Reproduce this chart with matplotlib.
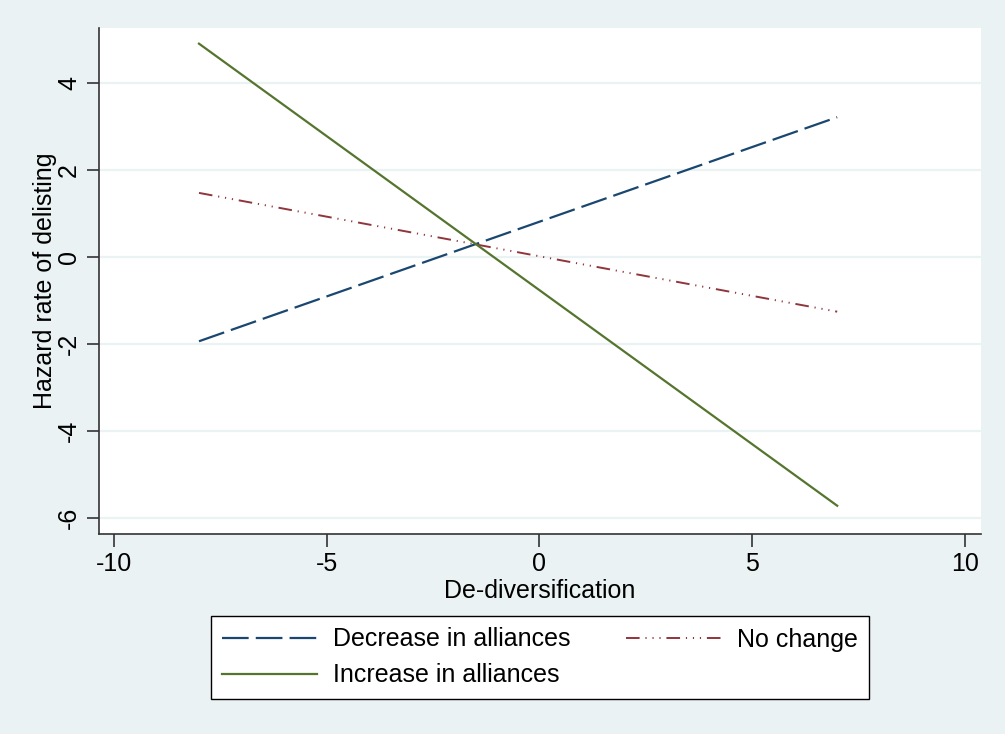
import numpy as np
import matplotlib.pyplot as plt

plt.rcParams['font.family'] = ['Liberation Sans', 'DejaVu Sans']
plt.rcParams['axes.unicode_minus'] = False

# ── Data ──────────────────────────────────────────────────────────────────────
x_pts = [-8, 7]
decrease = [-1.94, 3.21]
no_change = [1.47, -1.26]
increase = [4.90, -5.72]

x_ticks = [-10, -5, 0, 5, 10]
y_ticks = [-6, -4, -2, 0, 2, 4]

BG = '#EAF2F3'
NAVY = '#1A476F'
MAROON = '#90353B'
GREEN = '#55752F'

W, H = 1005, 734
fig = plt.figure(figsize=(W / 100, H / 100), dpi=100, facecolor=BG)
ax = fig.add_axes([99 / W, 1 - 534 / H, (981 - 99) / W, (534 - 28) / H])
ax.set_facecolor('white')

for yv in y_ticks:
    ax.axhline(yv, color=BG, lw=1.6, zorder=0)

h_dec, = ax.plot(x_pts, decrease, color=NAVY, lw=1.6, dashes=(12, 3.2),
                 label='Decrease in alliances')
h_nc, = ax.plot(x_pts, no_change, color=MAROON, lw=1.4,
                dashes=(7, 3, 0.6, 3, 0.6, 3, 0.6, 3), label='No change')
h_inc, = ax.plot(x_pts, increase, color=GREEN, lw=1.6,
                 label='Increase in alliances')

ax.set_xlim(-10.35, 10.38)
ax.set_ylim(-6.37, 5.26)
ax.set_xticks(x_ticks)
ax.set_yticks(y_ticks)
ax.set_yticklabels([str(v) for v in y_ticks], rotation=90, va='center')
ax.tick_params(direction='out', length=9, width=1.2, labelsize=18, pad=4,
               color='#333333')

for s in ['top', 'right']:
    ax.spines[s].set_visible(False)
for s in ['left', 'bottom']:
    ax.spines[s].set_linewidth(1.2)
    ax.spines[s].set_color('#333333')

ax.set_xlabel('De-diversification', fontsize=18, labelpad=2)
ax.set_ylabel('Hazard rate of delisting', fontsize=18, labelpad=0)

# row-major order like Stata: matplotlib fills columns first
handles = [h_dec, h_inc, h_nc]
leg = fig.legend(handles, [h.get_label() for h in handles], ncol=2,
                 loc='center', bbox_to_anchor=(540 / W, 1 - 657.5 / H),
                 fontsize=18, frameon=True, fancybox=False, framealpha=1,
                 facecolor='white', handlelength=3.8, handletextpad=0.66,
                 columnspacing=2.2, borderpad=0.45, labelspacing=0.48)
leg.get_frame().set_edgecolor('black')
leg.get_frame().set_linewidth(1.0)

fig.savefig('out.png', dpi=100, facecolor=BG)
